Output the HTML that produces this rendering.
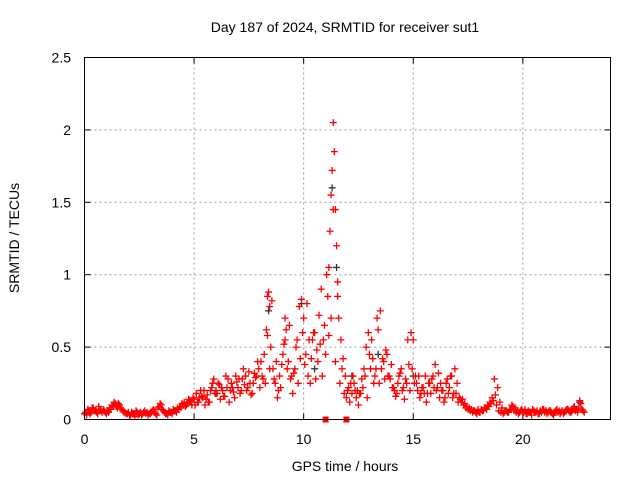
<!DOCTYPE html>
<html><head><meta charset="utf-8"><style>
html,body{margin:0;padding:0;background:#fff;}
svg{display:block;font-family:"Liberation Sans",sans-serif;}
</style></head><body>
<svg id="chart" width="640" height="480" viewBox="0 0 640 480" xmlns="http://www.w3.org/2000/svg">
<rect width="640" height="480" fill="#fff"/>
<text x="345" y="32" font-size="14" text-anchor="middle">Day 187 of 2024, SRMTID for receiver sut1</text>
<text x="345" y="471" font-size="14" text-anchor="middle">GPS time / hours</text>
<text transform="translate(19,238) rotate(-90)" font-size="14" text-anchor="middle">SRMTID / TECUs</text>
<g id="grid"></g>
<g id="axes"></g>
<g id="marks"></g>
<rect x="84.5" y="57.5" width="526" height="362" fill="none" stroke="#000" stroke-width="1"/>
</svg>
<script>
const xTicks=[0,5,10,15,20];
const yTicks=[0,0.5,1,1.5,2,2.5];
const yTickLabels=["0","0.5","1","1.5","2","2.5"];
const redTimes=[0,0.1,0.2,0.3,0.4,0.5,0.6,0.7,0.8,0.9,1.0,1.1,1.2,1.3,1.4,1.5,1.6,1.7,1.8,1.9,2.0,2.1,2.2,2.3,2.4,2.5,2.6,2.7,2.8,2.9,3.0,3.1,3.2,3.3,3.4,3.5,3.6,3.7,3.8,3.9,4.0,4.1,4.2,4.3,4.4,4.5,4.6,4.7,4.8,4.9,5.0,5.1,5.2,5.3,5.4,5.5,5.6,5.7,5.8,5.9,6.0,6.1,6.2,6.3,6.4,6.5,6.6,6.7,6.8,6.9,7.0,7.1,7.2,7.3,7.4,7.5,7.6,7.7,7.8,7.9,8.0,8.1,8.2,8.3,8.35,8.4,8.45,8.5,8.6,8.7,8.8,8.9,9.0,9.1,9.15,9.2,9.3,9.4,9.5,9.6,9.7,9.8,9.9,10.0,10.1,10.2,10.3,10.4,10.5,10.6,10.7,10.8,10.9,11.0,11.1,11.15,11.2,11.25,11.3,11.35,11.4,11.45,11.5,11.55,11.6,11.7,11.8,11.9,12.0,12.1,12.2,12.3,12.4,12.5,12.6,12.7,12.8,12.9,13.0,13.1,13.2,13.3,13.4,13.5,13.6,13.7,13.8,13.9,14.0,14.1,14.2,14.3,14.4,14.5,14.6,14.7,14.8,14.9,15.0,15.1,15.2,15.3,15.4,15.5,15.6,15.7,15.8,15.9,16.0,16.1,16.2,16.3,16.4,16.5,16.6,16.7,16.8,16.9,17.0,17.1,17.2,17.3,17.4,17.5,17.6,17.7,17.8,17.9,18.0,18.1,18.2,18.3,18.4,18.5,18.6,18.7,18.8,18.9,19.0,19.1,19.2,19.3,19.4,19.5,19.6,19.7,19.8,19.9,20.0,20.1,20.2,20.3,20.4,20.5,20.6,20.7,20.8,20.9,21.0,21.1,21.2,21.3,21.4,21.5,21.6,21.7,21.8,21.9,22.0,22.1,22.2,22.3,22.4,22.5,22.6,22.7,22.8];
const redValues=[.04,.03,.06,.05,.08,.06,.04,.07,.05,.06,.04,.05,.07,.09,.11,.08,.10,.07,.05,.04,.05,.03,.04,.02,.05,.04,.03,.05,.04,.03,.04,.06,.05,.03,.09,.10,.06,.04,.03,.05,.04,.06,.05,.07,.08,.10,.09,.11,.13,.10,.14,.18,.12,.20,.15,.10,.17,.12,.22,.28,.18,.25,.14,.20,.16,.22,.12,.25,.19,.30,.22,.18,.28,.24,.20,.33,.17,.25,.29,.40,.22,.30,.45,.62,.85,.88,.78,.50,.35,.25,.15,.30,.38,.52,.70,.62,.40,.28,.18,.35,.55,.78,.83,.70,.45,.30,.25,.55,.60,.48,.72,.90,.55,.45,.85,1.05,1.3,1.55,1.72,2.05,1.85,1.45,1.2,.95,.70,.55,.42,.30,.20,.12,.18,.25,.15,.10,.18,.22,.30,.15,.45,.55,.25,.35,.62,.75,.42,.28,.45,.30,.38,.22,.16,.25,.32,.20,.14,.25,.38,.60,.55,.30,.20,.15,.22,.18,.12,.25,.18,.30,.38,.22,.15,.20,.12,.25,.18,.30,.15,.35,.25,.15,.12,.10,.08,.07,.06,.05,.06,.04,.05,.07,.06,.08,.10,.12,.15,.28,.10,.06,.05,.04,.06,.05,.07,.10,.06,.05,.04,.06,.05,.07,.04,.05,.03,.06,.05,.04,.06,.07,.05,.04,.06,.05,.03,.06,.05,.04,.06,.05,.07,.06,.05,.08,.06,.05,.13,.07,.05];
const red2Times=[5.05,5.25,5.45,5.65,5.85,6.05,6.25,6.45,6.65,6.85,7.05,7.25,7.45,7.65,7.85,8.05,8.25,8.45,8.65,8.85,9.05,9.25,9.45,9.65,9.85,10.05,10.25,10.45,10.65,10.85,11.05,11.25,11.45,11.65,11.85,12.05,12.25,12.45,12.65,12.85,13.05,13.25,13.45,13.65,13.85,14.05,14.25,14.45,14.65,14.85,15.05,15.25,15.45,15.65,15.85,16.05,16.25,16.45,16.65,16.85,17.05];
const red2Values=[.10,.15,.20,.12,.25,.18,.22,.30,.20,.15,.28,.35,.22,.18,.30,.40,.25,.35,.28,.20,.45,.35,.30,.50,.42,.38,.55,.60,.40,.30,1.0,.70,.40,.25,.18,.22,.30,.20,.28,.50,.35,.30,.25,.40,.30,.22,.18,.35,.28,.20,.25,.30,.22,.18,.28,.20,.25,.15,.22,.18,.12];
const red3Times=[5.15,5.35,5.55,5.75,5.95,6.15,6.35,6.55,6.75,6.95,7.15,7.35,7.55,7.75,7.95,8.15,8.35,8.55,8.75,8.95,9.15,9.35,9.55,9.75,9.95,10.15,10.35,10.55,10.75,10.95,11.15,11.35,11.55,11.75,11.95,12.15,12.35,12.55,12.75,12.95,13.15,13.35,13.55,13.75,13.95,14.15,14.35,14.55,14.75,14.95,15.15,15.35,15.55,15.75,15.95,16.15,16.35,16.55,16.75,16.95,17.15];
const red3Values=[.12,.16,.14,.20,.18,.24,.16,.28,.22,.26,.20,.30,.25,.32,.35,.28,.58,.82,.40,.22,.55,.65,.32,.25,.60,.80,.42,.28,.52,.65,.58,1.45,.85,.35,.15,.25,.20,.18,.35,.60,.42,.70,.35,.48,.28,.20,.30,.22,.55,.35,.25,.18,.30,.25,.22,.32,.20,.28,.30,.18,.14];
const red4Times=[0.05,0.15,0.25,0.35,0.45,0.55,0.65,0.75,0.85,0.95,1.05,1.15,1.25,1.35,1.45,1.55,1.65,1.75,1.85,1.95,2.05,2.15,2.25,2.35,2.45,2.55,2.65,2.75,2.85,2.95,3.05,3.15,3.25,3.35,3.45,3.55,3.65,3.75,3.85,3.95,4.05,4.15,4.25,4.35,4.45,4.55,4.65,4.75,4.85,4.95];
const red4Values=[.05,.07,.04,.08,.06,.05,.09,.06,.07,.05,.06,.08,.10,.12,.09,.11,.08,.06,.05,.04,.03,.05,.04,.06,.03,.05,.04,.06,.05,.04,.05,.07,.04,.08,.11,.07,.05,.04,.06,.05,.07,.06,.08,.09,.11,.12,.10,.14,.12,.15];
const red5Times=[17.25,17.35,17.45,17.55,17.65,17.75,17.85,17.95,18.05,18.15,18.25,18.35,18.45,18.55,18.65,18.75,18.85,18.95,19.05,19.15,19.25,19.35,19.45,19.55,19.65,19.75,19.85,19.95,20.05,20.15,20.25,20.35,20.45,20.55,20.65,20.75,20.85,20.95,21.05,21.15,21.25,21.35,21.45,21.55,21.65,21.75,21.85,21.95,22.05,22.15,22.25,22.35,22.45,22.55,22.65,22.75];
const red5Values=[.14,.11,.09,.08,.07,.06,.05,.07,.05,.06,.08,.07,.09,.11,.13,.17,.22,.12,.08,.05,.06,.05,.07,.09,.08,.06,.05,.07,.05,.04,.06,.05,.07,.05,.06,.04,.05,.07,.06,.05,.06,.04,.05,.07,.06,.05,.04,.06,.07,.05,.06,.09,.07,.08,.11,.06];
const blackTimes=[6.0,8.4,9.9,10.5,11.3,11.5,12.2,13.4,15.0,22.6];
const blackValues=[.20,.75,.80,.35,1.60,1.05,.30,.45,.30,.12];
const squareTimes=[11.0,11.95];
const squareValues=[0,0];

const X0=84.5,X1=610.5,Y0=419.5,Y1=57.5,XMAX=24,YMAX=2.5;
const xs=v=>X0+v/XMAX*(X1-X0);
const ys=v=>Y0-v/YMAX*(Y0-Y1);
const NS="http://www.w3.org/2000/svg";
function mk(tag,attrs,parent){const e=document.createElementNS(NS,tag);for(const k in attrs)e.setAttribute(k,attrs[k]);parent.appendChild(e);return e;}
const grid=document.getElementById('grid'),axes=document.getElementById('axes'),marks=document.getElementById('marks');
xTicks.forEach((t,i)=>{
  const x=xs(t);
  if(t>0){const g=mk('line',{x1:x,y1:Y0,x2:x,y2:Y1,stroke:'#999','stroke-dasharray':'2,3'},grid);
  
  }
  const tk=mk('line',{x1:x,y1:Y0,x2:x,y2:Y0-6,stroke:'#000'},axes);
  
  
  const tk2=mk('line',{x1:x,y1:Y1,x2:x,y2:Y1+6,stroke:'#000'},axes);
  
  
  const l=mk('text',{x:x,y:444,'font-size':14,'text-anchor':'middle'},axes);
  l.textContent=String(t);
  
  
});
yTicks.forEach((t,i)=>{
  const y=ys(t);
  if(t>0&&t<YMAX){const g=mk('line',{x1:X0,y1:y,x2:X1,y2:y,stroke:'#999','stroke-dasharray':'2,3'},grid);
  
  }
  const tk=mk('line',{x1:X0,y1:y,x2:X0+6,y2:y,stroke:'#000'},axes);
  
  
  const tk2=mk('line',{x1:X1,y1:y,x2:X1-6,y2:y,stroke:'#000'},axes);
  
  
  const l=mk('text',{x:71,y:y+5,'font-size':14,'text-anchor':'end'},axes);
  l.textContent=yTickLabels[i];
  
  
});
function plus(t,v,color,name){
  const x=xs(t),y=ys(v);
  const p=mk('path',{d:`M${x-3.5},${y}H${x+3.5}M${x},${y-3.5}V${y+3.5}`,stroke:color,'stroke-width':1.3,fill:'none'},marks);
  
  
}
blackTimes.forEach((t,i)=>plus(t,blackValues[i],'#333','black-point'));
redTimes.forEach((t,i)=>plus(t,redValues[i],'#f00','red-point'));
red2Times.forEach((t,i)=>plus(t,red2Values[i],'#f00','red-point'));
red3Times.forEach((t,i)=>plus(t,red3Values[i],'#f00','red-point'));
red4Times.forEach((t,i)=>plus(t,red4Values[i],'#f00','red-point'));
red5Times.forEach((t,i)=>plus(t,red5Values[i],'#f00','red-point'));
squareTimes.forEach((t,i)=>{
  const r=mk('rect',{x:xs(t)-3,y:ys(squareValues[i])-3,width:6,height:6,fill:'#f00'},marks);
  
  
});
</script>
</body></html>
